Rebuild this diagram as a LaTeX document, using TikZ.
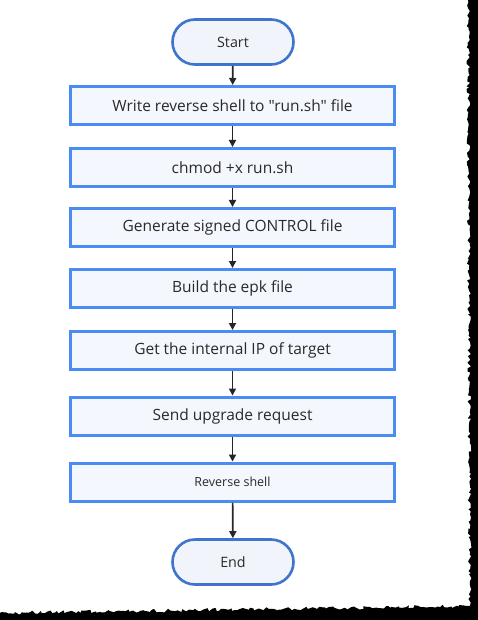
\documentclass[tikz,border=0pt]{standalone}
\usepackage{fontspec}
\setmainfont{Open Sans}[Ligatures=TeXOff]
\usetikzlibrary{arrows.meta,decorations.pathmorphing}
\definecolor{boxline}{HTML}{4A8CF2}
\definecolor{boxfill}{HTML}{F4F7FE}
\definecolor{pillline}{HTML}{3F74CC}
\definecolor{pillfill}{HTML}{F2F4FB}
\definecolor{txt}{HTML}{2A2A2A}
\tikzset{
  x=1pt,y=-1pt,
  stepbox/.style={draw=boxline,fill=boxfill,line width=3pt,minimum width=324pt,minimum height=38pt,inner sep=0pt,text=txt,font=\fontsize{15.5}{17}\selectfont},
  pill/.style={draw=pillline,fill=pillfill,line width=2.6pt,minimum width=121pt,minimum height=45pt,rounded corners=22.5pt,inner sep=0pt,text=txt,font=\fontsize{14.3}{16}\selectfont},
  conn/.style={draw=black!85,line width=1.7pt,-{Triangle[length=7pt,width=7pt]}}
}
\begin{document}
\begin{tikzpicture}
\useasboundingbox (0,0) rectangle (478,620);
\fill[white] (0,0) rectangle (478,620);
\pgfmathsetseed{7}
\fill[black] (478,0) -- (468,0) decorate[decoration={random steps,segment length=2.5pt,amplitude=1.8pt}]{ -- (470,606) -- (0,613)} -- (0,620) -- (478,620) -- cycle;
\node[pill] (start) at (233,42) {Start};
\node[stepbox] (b1) at (232.5,105.5) {Write reverse shell to "run.sh" file};
\node[stepbox] (b2) at (232.5,167.5) {chmod +x run.sh};
\node[stepbox] (b3) at (232.5,227.5) {Generate signed CONTROL file};
\node[stepbox] (b4) at (232.5,288.5) {Build the epk file};
\node[stepbox] (b5) at (232.5,350.5) {Get the internal IP of target};
\node[stepbox] (b6) at (232.5,416) {Send upgrade request};
\node[stepbox,font=\fontsize{12.5}{14}\selectfont] (b7) at (232.5,482) {Reverse shell};
\node[pill] (end) at (233,562) {End};
\draw[conn] (start) -- (b1);
\draw[conn] (b1) -- (b2);
\draw[conn] (b2) -- (b3);
\draw[conn] (b3) -- (b4);
\draw[conn] (b4) -- (b5);
\draw[conn] (b5) -- (b6);
\draw[conn] (b6) -- (b7);
\draw[conn] (b7) -- (end);
\end{tikzpicture}
\end{document}
